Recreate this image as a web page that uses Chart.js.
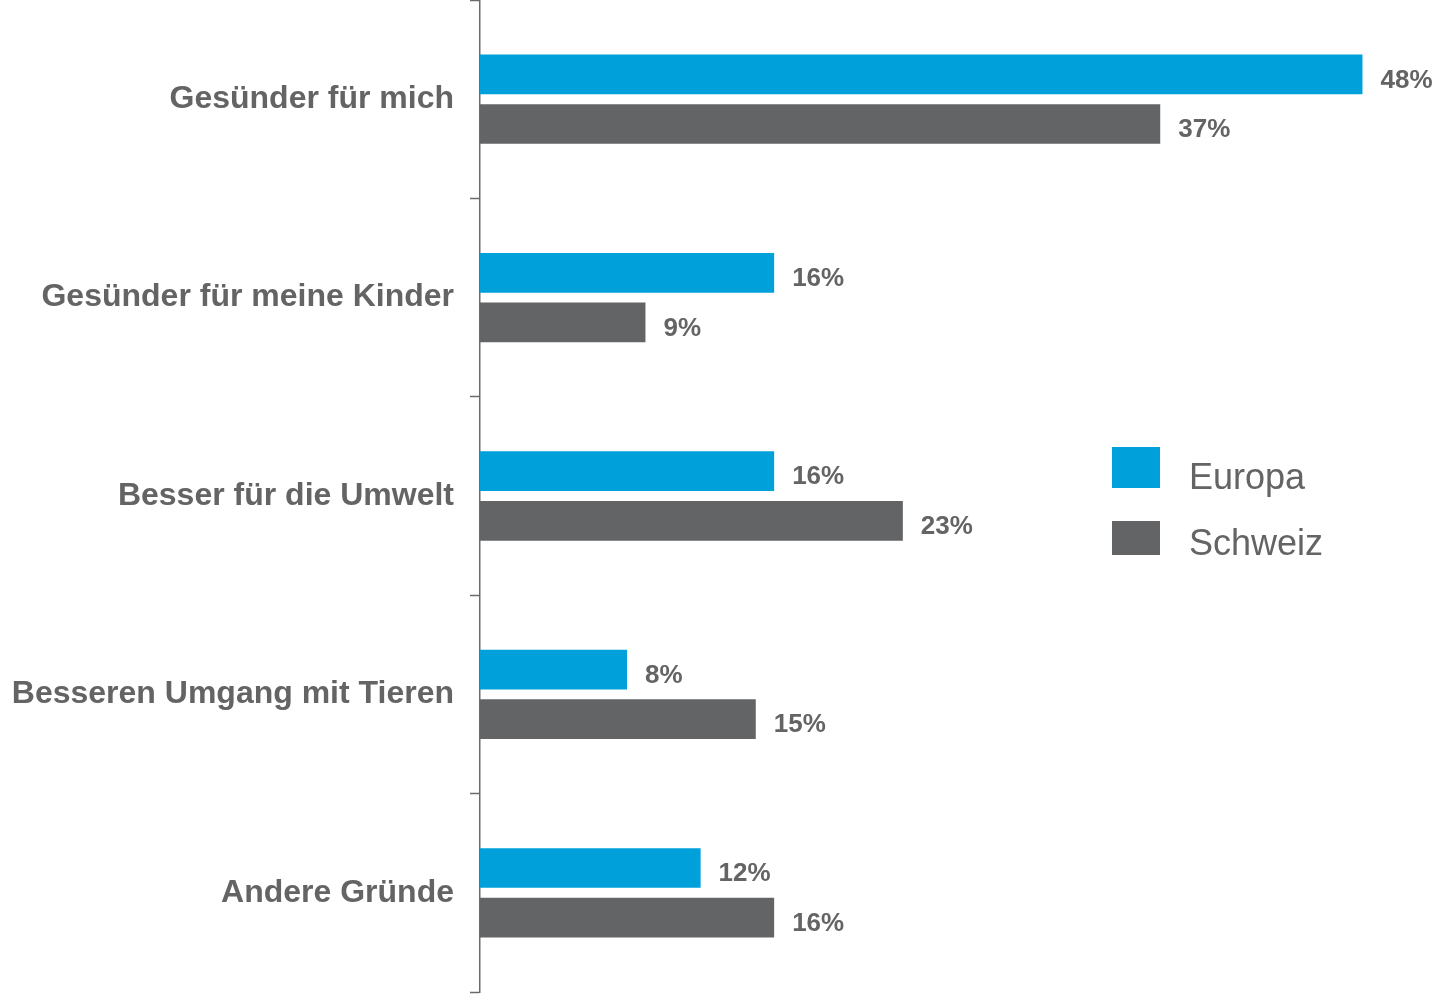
<!DOCTYPE html>
<html>
<head>
<meta charset="utf-8">
<script src="https://cdn.jsdelivr.net/npm/chart.js@4.4.1/dist/chart.umd.min.js"></script>
<style>
    html, body { margin: 0; padding: 0; background: #fff; }
    #wrap { position: relative; width: 1436px; height: 1003px; }
</style>
</head>
<body>
<div id="wrap"><canvas id="mychart"></canvas></div>
<script>
// data
const categories = ["Gesünder für mich", "Gesünder für meine Kinder", "Besser für die Umwelt", "Besseren Umgang mit Tieren", "Andere Gründe"];
const europa = [48, 16, 16, 8, 12];
const schweiz = [37, 9, 23, 15, 16];
const seriesNames = ["Europa", "Schweiz"];

const textGrey = '#646464';
const blue = '#00A0DA';
const grey = '#636466';

// percent labels right of each bar
const valueLabels = {
    id: 'valueLabels',
    afterDatasetsDraw(chart) {
        const ctx = chart.ctx;
        ctx.save();
        ctx.fillStyle = textGrey;
        ctx.font = 'bold 26px "Liberation Sans", Arial, sans-serif';
        ctx.textAlign = 'left';
        ctx.textBaseline = 'middle';
        chart.data.datasets.forEach(function(ds, i) {
            chart.getDatasetMeta(i).data.forEach(function(bar, j) {
                ctx.fillText(ds.data[j] + '%', bar.x + 18, bar.y + 6);
            });
        });
        ctx.restore();
    }
};

// legend on the right, built from the datasets
const sideLegend = {
    id: 'sideLegend',
    afterDraw(chart) {
        const ctx = chart.ctx;
        const boxes = [[447, 41, 479], [521, 34, 545]];
        ctx.save();
        ctx.font = '36px "Liberation Sans", Arial, sans-serif';
        ctx.textBaseline = 'middle';
        chart.data.datasets.forEach(function(ds, i) {
            ctx.fillStyle = ds.backgroundColor;
            ctx.fillRect(1112, boxes[i][0], 48, boxes[i][1]);
            ctx.fillStyle = textGrey;
            ctx.fillText(ds.label, 1189, boxes[i][2]);
        });
        ctx.restore();
    }
};

let ctx = document.getElementById('mychart');

let myChart = new Chart(ctx, {
    type: 'bar',
    data: {
        labels: categories,
        datasets: [{
            label: seriesNames[0],
            data: europa,
            backgroundColor: blue
        }, {
            label: seriesNames[1],
            data: schweiz,
            backgroundColor: grey
        }]
    },
    options: {
        indexAxis: 'y',
        responsive: true,
        maintainAspectRatio: false,
        animation: false,
        categoryPercentage: 0.5,
        barPercentage: 0.8,
        layout: { padding: { top: -8, bottom: 11, left: 0, right: 0 } },
        plugins: {
            legend: { display: false },
            tooltip: { enabled: false }
        },
        scales: {
            x: {
                display: false,
                min: 0,
                max: 52
            },
            y: {
                afterFit: function(scale) {
                    scale.width = 480;
                    scale.paddingTop = 0;
                    scale.paddingBottom = 0;
                },
                border: { display: true, color: '#6a6a6a', width: 1.5 },
                grid: {
                    drawOnChartArea: false,
                    drawTicks: true,
                    tickLength: 10,
                    tickColor: '#6a6a6a',
                    tickWidth: 1.5,
                    offset: true
                },
                ticks: {
                    color: textGrey,
                    padding: 16,
                    font: { family: '"Liberation Sans", Arial, sans-serif', size: 32, weight: 'bold' }
                }
            }
        }
    },
    plugins: [valueLabels, sideLegend]
});
</script>
</body>
</html>
